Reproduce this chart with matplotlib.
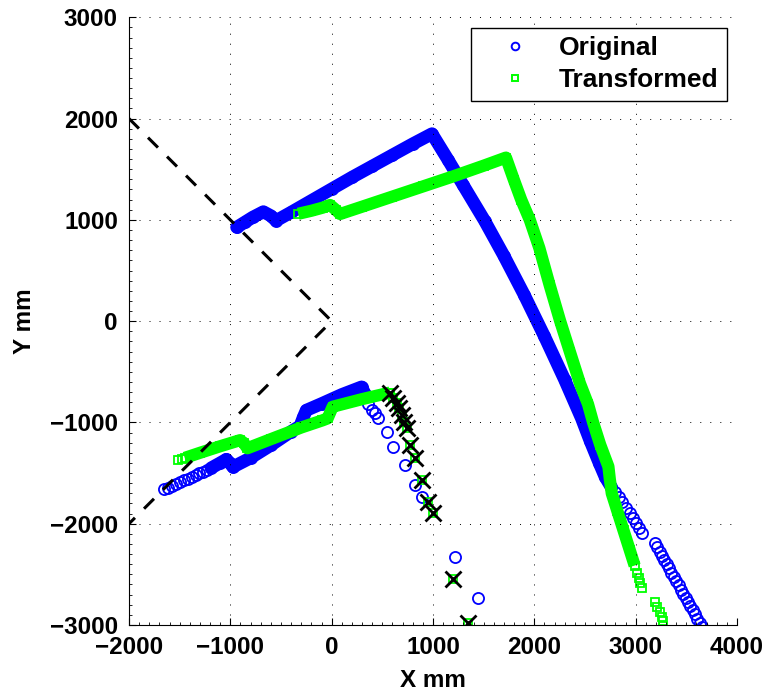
import matplotlib
matplotlib.use('Agg')  # Non-interactive backend
import matplotlib.pyplot as plt
from matplotlib.lines import Line2D
from matplotlib.ticker import MultipleLocator

# Original points (mm)
orig_upper_x = [-937, -860, -780, -674, -600, -549, -400, -200, 0, 200, 400, 600, 800, 990,
                1150, 1300, 1510, 1700, 1900, 2100, 2300, 2466, 2550, 2640, 2700, 2760]
orig_upper_y = [927, 975, 1025, 1080, 1040, 992, 1075, 1190, 1305, 1420, 1530, 1640, 1750, 1850,
                1590, 1340, 990, 645, 260, -150, -580, -960, -1180, -1400, -1540, -1640]
orig_tail_x = [2800, 2835, 2870, 2905, 2940, 2970, 3000, 3030, 3061]
orig_tail_y = [-1690, -1740, -1790, -1845, -1895, -1945, -1995, -2045, -2094]
orig_far_x = [3192, 3214, 3237, 3261, 3283, 3307, 3330, 3353, 3377, 3400, 3423,
              3447, 3470, 3493, 3516, 3540, 3562, 3585, 3608, 3631, 3653]
orig_far_y = [-2194, -2233, -2276, -2318, -2359, -2401, -2442, -2483, -2526, -2567, -2608,
              -2650, -2691, -2732, -2773, -2816, -2855, -2896, -2937, -2978, -3016]
orig_lower_start_x = [-1650, -1612, -1573, -1535, -1497, -1458, -1420, -1382, -1343, -1305, -1267, -1228]
orig_lower_start_y = [-1660, -1643, -1625, -1608, -1590, -1573, -1555, -1538, -1520, -1503, -1485, -1468]
orig_lower_x = [-1190, -1100, -1040, -1005, -975, -800, -600, -400, -312, -280, -250, -100, 100, 295, 330]
orig_lower_y = [-1450, -1400, -1365, -1400, -1440, -1350, -1225, -1090, -1035, -950, -880, -815, -725, -650, -720]
orig_drop_x = [362, 396, 425, 461, 544, 610, 725, 823, 889, 1218, 1448]
orig_drop_y = [-815, -877, -910, -958, -1091, -1239, -1420, -1617, -1733, -2325, -2736]

# Transformed points (mm)
trans_upper_x = [-330, -200, -90, -16, 40, 83, 300, 600, 900, 1200, 1500, 1720, 1800, 1870,
                 1955, 2050, 2150, 2255, 2350, 2450, 2530, 2580, 2650, 2731, 2745, 2764,
                 2820, 2880, 2940, 2990]
trans_upper_y = [1060, 1090, 1120, 1147, 1100, 1058, 1130, 1230, 1330, 1430, 1535, 1615, 1390, 1200,
                 1000, 720, 360, 0, -300, -614, -820, -1000, -1220, -1436, -1560, -1700,
                 -1877, -2066, -2255, -2413]
trans_tail_x = [3012, 3030, 3045, 3061, 3192, 3215, 3241, 3255, 3265, 3274]
trans_tail_y = [-2485, -2540, -2590, -2637, -2769, -2820, -2868, -2920, -2965, -3010]
trans_lower_start_x = [-1513, -1480]
trans_lower_start_y = [-1370, -1360]
trans_lower_x = [-1450, -1300, -1100, -904, -870, -832, -600, -300, -92, -40, 10, 300, 576]
trans_lower_y = [-1350, -1300, -1235, -1175, -1200, -1255, -1165, -1050, -980, -960, -845, -770, -705]

# Transformed points flagged with a cross
cross_x = [576, 609, 643, 669, 692, 715, 741, 774, 823, 889, 955, 1004, 1202, 1350]
cross_y = [-712, -761, -810, -860, -926, -992, -1057, -1220, -1355, -1568, -1782, -1896, -2548, -2982]

# Field-of-view boundary
fov_x = [-2000, 0, -2000]
fov_y = [2000, 0, -2000]

BLUE = '#0000ff'
GREEN = '#00ff00'


def make_plot():
    plt.rcParams['font.family'] = ['Liberation Sans', 'DejaVu Sans']
    plt.rcParams['font.weight'] = 'bold'
    plt.rcParams['font.size'] = 17.5

    fig = plt.figure(figsize=(7.72, 6.93), dpi=100)
    ax = fig.add_axes([129 / 772, 1 - 625 / 693, 608 / 772, 607.7 / 693])

    circ = dict(marker='o', ms=8.0, mew=1.3, mfc='none', mec=BLUE, color=BLUE)
    sq = dict(marker='s', ms=5.8, mew=1.3, mfc='none', mec=GREEN, color=GREEN)

    # dense stretches of the track overlap into a solid band
    ax.plot(orig_upper_x, orig_upper_y, ls='-', lw=9.3, solid_capstyle='round',
            solid_joinstyle='round', **circ)
    ax.plot(orig_lower_x, orig_lower_y, ls='-', lw=9.3, solid_capstyle='round',
            solid_joinstyle='round', **circ)
    for xs, ys in [(orig_tail_x, orig_tail_y), (orig_far_x, orig_far_y),
                   (orig_lower_start_x, orig_lower_start_y), (orig_drop_x, orig_drop_y)]:
        ax.plot(xs, ys, ls='none', **circ)

    ax.plot(trans_upper_x, trans_upper_y, ls='-', lw=8.8, solid_capstyle='butt',
            solid_joinstyle='round', **sq)
    ax.plot(trans_lower_x, trans_lower_y, ls='-', lw=8.8, solid_capstyle='butt',
            solid_joinstyle='round', **sq)
    for xs, ys in [(trans_tail_x, trans_tail_y), (trans_lower_start_x, trans_lower_start_y),
                   (cross_x, cross_y)]:
        ax.plot(xs, ys, ls='none', **sq)

    ax.plot(cross_x, cross_y, ls='none', marker='x', ms=11, mew=2.0, color='k')
    ax.plot(fov_x, fov_y, color='k', lw=2.2, dashes=(4.6, 4.2))

    ax.set_xlim(-2000, 4000)
    ax.set_ylim(-3000, 3000)
    ax.set_xticks(range(-2000, 4001, 1000))
    ax.set_yticks(range(-3000, 3001, 1000))
    ax.xaxis.set_minor_locator(MultipleLocator(100))
    ax.yaxis.set_minor_locator(MultipleLocator(100))
    ax.tick_params(which='major', direction='in', length=5, width=0.8, pad=8,
                   top=False, right=False, labelsize=17.5)
    ax.tick_params(which='minor', direction='in', length=2.5, width=0.6,
                   top=False, right=False)
    for side in ['top', 'right']:
        ax.spines[side].set_visible(False)
    for side in ['left', 'bottom']:
        ax.spines[side].set_linewidth(0.8)
    ax.grid(True, which='major', color='k', linestyle=(0, (1, 9.3)), linewidth=0.7)
    ax.set_axisbelow(False)

    ax.set_xlabel('X mm', fontsize=17.5, fontweight='bold', labelpad=7)
    ax.set_ylabel('Y mm', fontsize=17.5, fontweight='bold', labelpad=10)

    handles = [
        Line2D([], [], ls='none', marker='o', ms=5.5, mew=1.4, mfc='none', mec=BLUE),
        Line2D([], [], ls='none', marker='s', ms=4.6, mew=1.4, mfc='none', mec=GREEN),
    ]
    leg = ax.legend(handles, ['Original', 'Transformed'], loc='upper right',
                    fancybox=False, framealpha=1, edgecolor='k', borderaxespad=0.39,
                    borderpad=0.33, handlelength=2.74, handletextpad=0.26,
                    labelspacing=0.29, fontsize=19)
    leg.get_frame().set_linewidth(1.0)

    fig.savefig('out.png', dpi=100)
    plt.close(fig)


if __name__ == "__main__":
    make_plot()
